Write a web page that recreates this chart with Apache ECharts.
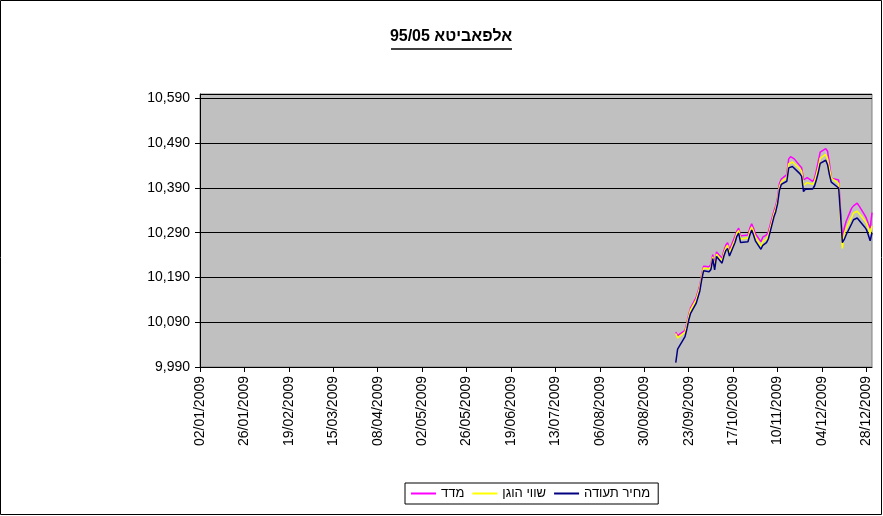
<!DOCTYPE html>
<html>
<head>
<meta charset="utf-8">
<script src="https://cdn.jsdelivr.net/npm/echarts@6/dist/echarts.min.js"></script>
<style>
html,body{margin:0;padding:0;background:#fff;}
#chart{width:883px;height:516px;}
</style>
</head>
<body>
<div id="chart"></div>
<script>
// ---- data ----
const titleText = 'אלפאביטא 95/05';
const seriesNames = ['מחיר תעודה', 'שווי הוגן', 'מדד'];
const legendOrder = ['מדד', 'שווי הוגן', 'מחיר תעודה'];
const axisStartDate = '2009-01-02';
const axisEndDate = '2009-12-31';
const tickDays = 24;
const yMin = 9990, yMax = 10600, yStep = 100;

const dates = [
 '2009-09-16','2009-09-17','2009-09-21','2009-09-22','2009-09-23','2009-09-24','2009-09-27','2009-09-29','2009-09-30',
 '2009-10-01','2009-10-04','2009-10-05','2009-10-06','2009-10-07','2009-10-08','2009-10-11','2009-10-12','2009-10-13',
 '2009-10-14','2009-10-15','2009-10-18','2009-10-19','2009-10-20','2009-10-21','2009-10-22','2009-10-25','2009-10-26',
 '2009-10-27','2009-10-28','2009-10-29',
 '2009-11-01','2009-11-02','2009-11-03','2009-11-04','2009-11-05','2009-11-08','2009-11-09','2009-11-10','2009-11-11',
 '2009-11-12','2009-11-15','2009-11-16','2009-11-17','2009-11-18','2009-11-19','2009-11-22','2009-11-23','2009-11-24',
 '2009-11-25','2009-11-26','2009-11-29','2009-11-30',
 '2009-12-01','2009-12-02','2009-12-03','2009-12-06','2009-12-07','2009-12-08','2009-12-09','2009-12-10','2009-12-13',
 '2009-12-14','2009-12-15','2009-12-16','2009-12-17','2009-12-20','2009-12-21','2009-12-22','2009-12-23','2009-12-24',
 '2009-12-27','2009-12-28','2009-12-29','2009-12-30','2009-12-31'
];

const certPrice = [
 10000,10030,10058,10075,10095,10110,10132,10160,10185,10205,
 10203,10208,10232,10207,10237,10222,10238,10250,10255,10238,
 10268,10282,10289,10268,10268,10270,10285,10296,10285,10272,
 10253,10262,10264,10268,10276,10325,10337,10355,10385,10398,
 10405,10435,10436,10438,10436,10422,10416,10382,10387,10391,
 10388,10395,10409,10425,10445,10452,10442,10420,10403,10400,
 10390,10330,10268,10275,10285,10310,10319,10322,10323,10320,
 10303,10297,10285,10272,10290
];

const fairValue = [
 10065,10055,10068,10084,10103,10118,10140,10168,10192,10211,
 10209,10214,10236,10214,10242,10228,10244,10256,10262,10245,
 10275,10289,10295,10276,10276,10278,10293,10303,10293,10280,
 10260,10270,10272,10276,10284,10332,10344,10362,10392,10404,
 10413,10444,10446,10448,10446,10433,10427,10396,10398,10402,
 10398,10405,10420,10436,10456,10465,10455,10433,10412,10408,
 10400,10320,10255,10288,10298,10325,10334,10336,10338,10335,
 10318,10312,10300,10288,10305
];

const indexValue = [
 10068,10060,10072,10088,10107,10122,10145,10172,10196,10215,
 10214,10219,10241,10219,10247,10233,10250,10262,10268,10252,
 10282,10294,10300,10283,10283,10285,10300,10310,10300,10288,
 10270,10280,10282,10285,10292,10338,10350,10368,10400,10410,
 10420,10455,10460,10458,10455,10440,10435,10408,10410,10413,
 10405,10412,10430,10450,10470,10478,10472,10445,10412,10410,
 10408,10340,10275,10300,10315,10345,10350,10352,10356,10350,
 10330,10322,10310,10300,10335
];

// ---- helpers ----
const DAY = 86400000;
function toUTC(s){ const p = s.split('-').map(Number); return Date.UTC(p[0], p[1]-1, p[2]); }
const t0 = toUTC(axisStartDate);
function dayIdx(s){ return Math.round((toUTC(s) - t0) / DAY); }
function fmtDay(v){
  const d = new Date(t0 + v * DAY);
  const dd = String(d.getUTCDate()).padStart(2,'0');
  const mm = String(d.getUTCMonth()+1).padStart(2,'0');
  return dd + '/' + mm + '/' + d.getUTCFullYear();
}
function fmtNum(v){ return String(v).replace(/\B(?=(\d{3})+(?!\d))/g, ','); }
function pairs(vals){ return dates.map((d,i) => [dayIdx(d), vals[i]]); }

const FONT = '"Liberation Sans", Arial, "DejaVu Sans", sans-serif';

const chart = echarts.init(document.getElementById('chart'), null, {renderer:'canvas'});
chart.setOption({
  animation: false,
  backgroundColor: '#ffffff',
  textStyle: { fontFamily: FONT },
  title: {
    text: titleText,
    left: 451, top: 29, textAlign: 'center', padding: 0,
    textStyle: { fontFamily: FONT, fontSize: 16, fontWeight: 'bold', color: '#000' }
  },
  legend: {
    data: legendOrder,
    left: 405, top: 483,
    orient: 'horizontal',
    borderColor: '#000', borderWidth: 1,
    padding: [4, 8, 4, 6],
    itemWidth: 25, itemHeight: 2, itemGap: 8,
    icon: 'rect',
    textStyle: { fontFamily: FONT, fontSize: 13, color: '#000' }
  },
  grid: {
    left: 200, right: 11, top: 94, bottom: 149,
    show: true, backgroundColor: '#C0C0C0', borderColor: '#808080', borderWidth: 1
  },
  xAxis: {
    type: 'value',
    min: 0, max: dayIdx(axisEndDate), interval: tickDays,
    axisLine: { show: true, lineStyle: { color: '#000', width: 1 } },
    axisTick: { show: true, length: 5, lineStyle: { color: '#000' } },
    splitLine: { show: false },
    axisLabel: {
      rotate: 90, margin: 9, fontSize: 14, color: '#000', fontFamily: FONT,
      showMaxLabel: false, showMinLabel: true,
      formatter: fmtDay
    }
  },
  yAxis: {
    type: 'value',
    min: yMin, max: yMax, interval: yStep,
    axisLine: { show: true, lineStyle: { color: '#000', width: 1 } },
    axisTick: { show: true, length: 5, lineStyle: { color: '#000' } },
    splitLine: { show: true, lineStyle: { color: '#000', width: 1 } },
    axisLabel: {
      margin: 10, fontSize: 14, color: '#000', fontFamily: FONT,
      showMaxLabel: false,
      formatter: fmtNum
    }
  },
  series: [
    { name: seriesNames[2], type: 'line', data: pairs(indexValue), showSymbol: false,
      color: '#FF00FF', lineStyle: { color: '#FF00FF', width: 1.5 } },
    { name: seriesNames[1], type: 'line', data: pairs(fairValue), showSymbol: false,
      color: '#FFFF00', lineStyle: { color: '#FFFF00', width: 1.5 } },
    { name: seriesNames[0], type: 'line', data: pairs(certPrice), showSymbol: false,
      color: '#000080', lineStyle: { color: '#000080', width: 1.5 } }
  ],
  graphic: [
    { type: 'rect', shape: { x: 0.5, y: 0.5, width: 881, height: 514 },
      style: { fill: 'none', stroke: '#000', lineWidth: 1 }, silent: true },
    { type: 'line', shape: { x1: 391, y1: 49, x2: 512, y2: 49 },
      style: { stroke: '#000', lineWidth: 1.5 }, silent: true }
  ]
});
</script>
</body>
</html>
